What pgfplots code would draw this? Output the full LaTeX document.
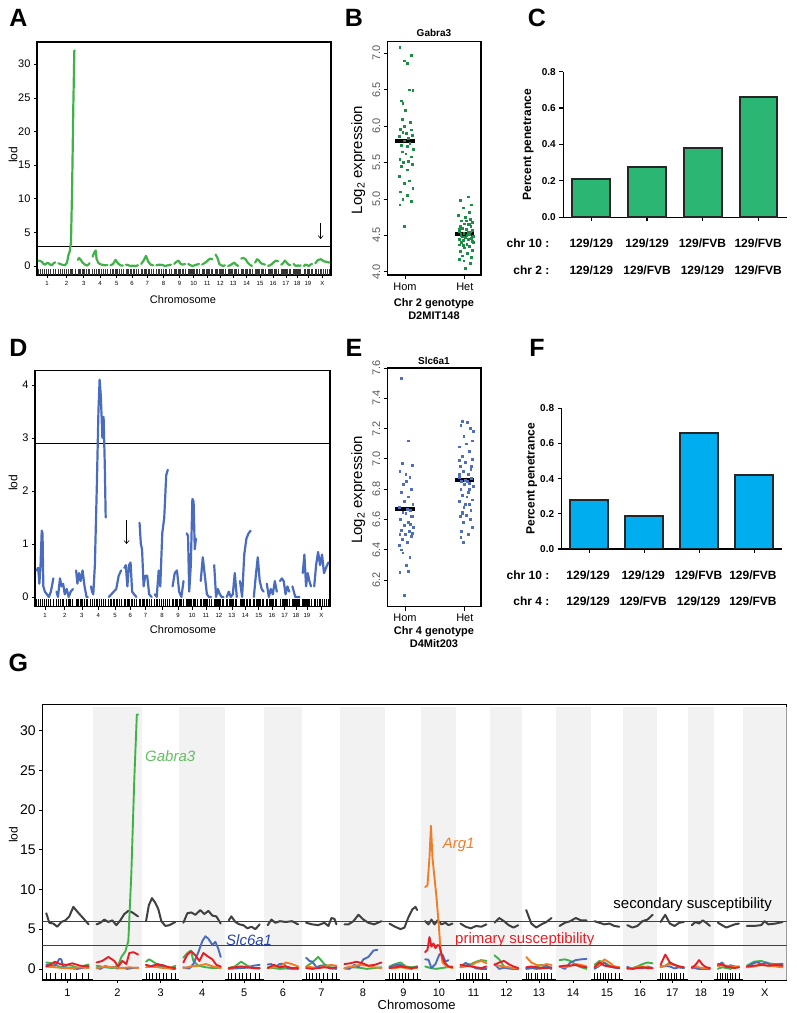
\documentclass[border=0pt]{standalone}
\usepackage{fontspec}
\setmainfont{Liberation Sans}
\usepackage{pgfplots}
\usepackage{pgfplotstable}
\pgfplotsset{compat=1.18}
\usetikzlibrary{arrows.meta}
\pgfkeys{/pgf/number format/assume math mode=true}
\newcommand{\fs}[1]{\fontsize{#1}{#1}\selectfont}
\definecolor{lodgreen}{RGB}{64,178,72}
\definecolor{lodblue}{RGB}{74,108,190}
\definecolor{lodorange}{RGB}{240,125,40}
\definecolor{lodred}{RGB}{232,30,36}
\definecolor{loddark}{RGB}{64,64,64}
\definecolor{bargreen}{RGB}{43,182,115}
\definecolor{barblue}{RGB}{0,174,239}
\definecolor{ptgreen}{RGB}{30,140,70}
\definecolor{ptblue}{RGB}{80,110,190}
\definecolor{bandgray}{RGB}{242,242,242}
\definecolor{txtgreen}{RGB}{100,190,100}
\definecolor{txtblue}{RGB}{40,70,170}

\pgfplotstableread{
x y
4 0.8
8 0.75
12.5 0.6
16.5 0.3
20.9 0.2
25 0.45
29.4 0.4
33.5 0.2
37.8 0.1
42 0.4
46.3 0.55
50 nan
54.3 0.4
58.5 0.3
62.6 0.2
66.8 0.15
70.9 0.1
76 0.5
79.1 1.5
83 2.2
86 3.5
89 12
92 24
94.5 32
95.7 32
100 nan
103.7 0.9
106.5 1.2
109.6 1.0
115.4 0.5
121.3 0.2
127.1 0.05
133 0.4
137 nan
141 1.4
145 2.0
148.5 2.3
151 1.0
155.9 0.4
163.4 0.2
170.8 0.1
178.3 0.15
182 nan
186.3 0.1
192.5 0.3
198.7 0.9
204.9 0.4
211.1 0.1
217.3 0.05
221 nan
225.3 0.2
231.4 0.1
237.5 0.0
243.5 0.05
249.6 0.0
255.7 0.1
260 nan
263.7 0.3
269.8 0.8
275.8 1.5
281.9 0.6
287.9 0.2
294 0.1
298 nan
302 0.1
309.4 0.2
316.8 0.15
324.2 0.0
331.6 0.1
339 0.2
343 nan
347 0.3
352.5 0.6
358.1 0.8
363.6 0.3
369.2 0.2
374.7 0.3
379 nan
382.7 0.3
388.2 0.1
393.6 0.0
399.1 0.1
404.5 0.2
410 0.3
414 nan
418 0.2
423.2 0.4
428.4 0.6
433.6 0.9
438.8 1.1
444 1.0
448 nan
452 1.7
456.7 1.2
461.5 0.3
466.2 0.1
471 0.0
475.7 0.1
480 nan
483.7 0.0
488.8 0.1
493.8 0.3
498.9 0.5
503.9 0.2
509 0.0
513 nan
517 1.1
522.4 1.2
527.8 1.0
533.2 0.5
538.6 0.2
544 0.0
548 nan
552 0.5
556.9 1.0
561.9 0.8
566.8 0.4
571.8 0.3
576.7 0.2
581 nan
584.7 0.0
589.8 0.1
594.8 0.3
599.9 0.6
604.9 0.8
610 0.7
614 nan
618 0.2
622.7 0.4
627.3 0.8
632 0.5
636.6 0.2
641.3 0.1
645 nan
649.3 0.3
652.9 0.1
656.5 0.0
660.1 0.1
663.7 0.0
667.3 0.1
671 nan
675.3 0.0
679.5 0.2
683.7 0.1
687.9 0.0
692.1 0.2
696.3 0.3
700 nan
704.3 0.4
711.4 0.9
718.6 1.0
725.7 0.7
732.9 0.6
740 0.5
}\greenA

\pgfplotstableread{
x y
4 0.5
8 0.55
11 0.25
14 0.6
17 1.25
19 1.2
21 0.2
25 0.1
30 0.05
35 0.0
40 0.1
46.3 0.35
50 nan
54.3 0.1
58 0.0
63 0.35
67 0.2
71 0.25
75 0.05
80 0.15
85 0.0
90 0.1
95.7 0.15
100 nan
103.7 0.5
107 0.25
111 0.45
115 0.3
120 0.5
125 0.2
130 0.0
133 0.0
137 nan
141 0.2
144 0.1
147 0.05
151 0.6
156 2.1
160 3.5
163 4.1
166 3.8
170 3.0
173 3.4
176 2.5
178.3 1.5
182 nan
186.3 0.0
192.5 0.05
198.7 0.1
204.9 0.15
211.1 0.4
217.3 0.5
221 nan
225.3 0.55
229 0.6
233 0.2
237 0.6
241 0.65
245 0.1
250 0.05
255.7 0.0
260 nan
263.7 1.4
267 1.0
270 0.9
274 0.2
278 0.4
283 0.4
288 0.05
294 0.0
298 nan
302 0.05
307 0.0
312 0.5
316 0.2
321 1.2
326 1.5
331 2.3
335 2.4
343 nan
347 0.2
352.5 0.45
358.1 0.5
363.6 0.1
369.2 0.0
374.7 0.3
379 nan
382.7 1.2
386 1.15
389 0.1
393 0.6
397 1.85
400 1.8
403 0.9
406 1.1
414 nan
418 0.3
423.2 0.75
428.4 0.4
433.6 0.05
438.8 0.0
444 0.0
448 nan
452 0.6
456.7 0.0
461.5 0.15
466.2 0.05
471 0.0
475.7 0.0
480 nan
483.7 0.0
488.8 0.1
493.8 0.0
498.9 0.05
503.9 0.45
509 0.0
513 nan
517 0.3
522.4 0.0
527.8 0.8
533.2 1.1
538.6 1.2
544 1.25
548 nan
552 0.0
556.9 0.4
561.9 0.75
566.8 0.3
571.8 0.15
576.7 0.1
581 nan
584.7 0.25
589.8 0.0
594.8 0.15
599.9 0.05
604.9 0.3
610 0.1
614 nan
618 0.3
622.7 0.35
627.3 0.3
632 0.05
636.6 0.2
641.3 0.1
645 nan
649.3 0.2
652.9 0.1
656.5 0.0
660.1 0.0
663.7 0.0
667.3 0.0
671 nan
675.3 0.45
679.5 0.8
683.7 0.2
687.9 0.45
692.1 0.3
696.3 0.2
700 nan
704.3 0.2
709 0.6
714 0.85
719 0.6
724 0.8
729 0.45
734 0.55
740 0.65
}\blueD

\pgfplotstableread{
x y
4 7.0
7 5.8
11 5.7
15 5.3
19 5.9
23 6.1
27 6.6
31 7.8
35 7.2
40 6.5
46.3 5.6
50 nan
54.3 5.6
58 5.8
62 6.2
66 5.9
70 6.1
74 5.5
78 6.1
82 6.9
86 7.3
90 7.1
95.7 6.6
100 nan
103.7 6.0
106.5 8.0
109.6 8.9
113 8.3
116 7.5
119 6.0
123 5.4
127.1 5.5
133 5.9
137 nan
141 5.8
145 7.0
149 7.1
153 6.8
158 7.4
162 6.9
166 7.3
170 6.7
174 6.6
178.3 5.7
182 nan
186.3 6.1
189 6.6
193 5.9
197 5.6
201 5.5
205 5.1
209 5.3
213 5.0
217.3 5.6
221 nan
225.3 5.5
229 6.2
233 5.8
237.5 6.0
243.5 5.9
249.6 6.0
255.7 5.6
260 nan
263.7 5.8
269.8 5.6
275.8 5.5
281.9 5.8
286 5.4
289 6.4
292 6.3
294 5.6
298 nan
302 5.6
306 5.6
311 6.0
316 6.8
321 6.2
326 5.8
331.6 5.6
339 6.0
343 nan
347 5.7
352.5 5.3
358.1 5.0
362 5.2
366 6.5
370 7.5
373 7.8
374.7 7.4
379 nan
382.7 6.0
386 5.6
389 6.2
392 5.6
395 6.1
399 5.6
403 5.8
406 5.5
410 5.7
414 nan
418 5.7
423.2 5.3
428.4 5.1
433.6 5.4
438.8 5.3
444 5.6
448 nan
452 5.8
456.7 6.4
461.5 6.0
466.2 5.5
471 5.2
475.7 5.5
480 nan
483.7 7.4
488.8 5.7
493.8 5.2
498.9 5.6
503.9 5.9
509 6.4
513 nan
517 5.4
522.4 5.8
527.8 6.0
533.2 6.4
538.6 6.1
544 6.1
548 nan
552 6.0
556.9 5.8
561.9 5.6
566.8 5.7
571.8 5.4
576.7 5.3
581 nan
584.7 5.5
589.8 5.2
594.8 5.4
599.9 6.0
604.9 6.2
610 6.8
614 nan
618 5.9
622.7 6.8
627.3 5.7
632 5.4
636.6 5.8
641.3 5.9
645 nan
649.3 5.5
652.9 5.9
656.5 5.7
660.1 6.1
663.7 5.8
667.3 5.4
671 nan
675.3 5.8
679.5 5.5
683.7 5.2
687.9 5.4
692.1 5.6
696.3 5.7
700 nan
704.3 5.4
711.4 5.4
718.6 5.5
722 6.0
725.7 5.6
732.9 5.7
740 5.9
}\darkG

\pgfplotstableread{
x y
4 0.3
12.5 0.2
20.9 0.1
29.4 0.1
37.8 0.2
46.3 0.1
50 nan
54.3 0.1
62.6 0.3
70.9 0.2
79.1 0.1
87.4 0.2
95.7 0.1
100 nan
103.7 0.2
109.6 0.3
115.4 0.2
121.3 0.1
127.1 0.1
133 0.1
137 nan
141 0.1
148.5 0.3
155.9 0.4
163.4 0.6
170.8 0.3
178.3 0.1
182 nan
186.3 0.1
192.5 0.2
198.7 0.3
204.9 0.2
211.1 0.1
217.3 0.1
221 nan
225.3 0.1
231.4 0.2
237.5 0.3
243.5 0.8
249.6 0.6
255.7 0.3
260 nan
263.7 0.3
269.8 0.2
275.8 0.1
281.9 0.3
287.9 0.5
294 0.4
298 nan
302 0.1
309.4 0.3
316.8 0.5
324.2 0.4
331.6 0.2
339 0.1
343 nan
347 0.1
352.5 0.1
358.1 0.2
363.6 0.1
369.2 0.1
374.7 0.1
379 nan
382.7 10.3
385 10.5
387 14
388.5 18
390 14
392 11.5
394 9
396 6
398 2.5
400 0.8
404 0.3
410 0.1
414 nan
418 0.2
423.2 0.3
428.4 0.4
433.6 0.8
438.8 1.0
444 0.7
448 nan
452 0.5
456.7 0.4
461.5 0.3
466.2 0.2
471 0.1
475.7 0.1
480 nan
483.7 1.5
488.8 0.8
493.8 0.5
498.9 0.4
503.9 0.6
509 0.5
513 nan
517 0.3
522.4 0.2
527.8 0.4
533.2 0.6
538.6 0.5
544 0.3
548 nan
552 0.2
556.9 0.5
561.9 1.2
566.8 0.8
571.8 0.3
576.7 0.2
581 nan
584.7 0.1
589.8 0.1
594.8 0.2
599.9 0.3
604.9 0.2
610 0.1
614 nan
618 0.2
622.7 0.4
627.3 0.6
632 0.5
636.6 0.3
641.3 0.2
645 nan
649.3 0.2
652.9 0.3
656.5 0.2
660.1 0.1
663.7 0.1
667.3 0.1
671 nan
675.3 0.3
679.5 0.5
683.7 0.4
687.9 0.3
692.1 0.3
696.3 0.3
700 nan
704.3 0.2
711.4 0.3
718.6 0.5
725.7 0.4
732.9 0.3
740 0.2
}\orangeG

\pgfplotstableread{
x y
4 0.3
8 0.5
12.5 0.9
18 0.6
24 0.5
30 0.7
37.8 0.4
46.3 0.3
50 nan
54.3 0.8
60 1.0
66 1.5
72 1.0
76 0.3
80 1.0
84 0.6
87 2.0
91 2.1
95.7 1.8
100 nan
103.7 0.5
109.6 0.3
115.4 0.6
121.3 0.4
127.1 0.2
133 0.1
137 nan
141 0.8
145 1.8
149 2.2
153 1.7
157 1.0
161 2.0
165 1.6
170 1.2
174 0.5
178.3 0.3
182 nan
186.3 0.1
192.5 0.2
198.7 0.3
204.9 0.2
211.1 0.1
217.3 0.1
221 nan
225.3 0.1
231.4 0.5
237.5 0.2
243.5 0.3
249.6 0.1
255.7 0.1
260 nan
263.7 0.1
269.8 0.0
275.8 0.1
281.9 0.2
287.9 0.1
294 0.2
298 nan
302 0.6
308 0.7
314 0.9
320 0.7
326 0.4
332 0.5
339 0.8
343 nan
347 0.1
352.5 0.2
358.1 0.3
363.6 0.2
369.2 0.1
374.7 0.2
379 nan
382.7 2.1
385 2.4
387 4.0
389 2.8
391 3.2
393 2.6
395 3.0
397 2.9
399 1.8
402 0.8
406 0.3
410 0.2
414 nan
418 0.5
423.2 0.4
428.4 0.3
433.6 0.2
438.8 0.1
444 0.3
448 nan
452 0.5
456.7 0.8
461.5 1.0
466.2 0.6
471 0.3
475.7 0.1
480 nan
483.7 0.2
488.8 0.3
493.8 0.2
498.9 0.1
503.9 0.1
509 0.2
513 nan
517 0.3
522.4 0.4
527.8 0.4
533.2 0.5
538.6 0.3
544 0.2
548 nan
552 0.2
556.9 0.8
561.9 0.4
566.8 0.3
571.8 0.2
576.7 0.1
581 nan
584.7 0.1
589.8 0.0
594.8 0.1
599.9 0.2
604.9 0.1
610 0.1
614 nan
618 0.5
622.7 1.8
627.3 0.8
632 0.5
636.6 0.3
641.3 0.2
645 nan
649.3 0.1
652.9 0.5
656.5 1.1
660.1 0.5
663.7 0.2
667.3 0.1
671 nan
675.3 0.6
679.5 0.5
683.7 0.3
687.9 0.2
692.1 0.1
696.3 0.2
700 nan
704.3 0.3
711.4 0.4
718.6 0.5
725.7 0.4
732.9 0.5
740 0.4
}\redG

\pgfplotsset{
  chromticks/.style={
    xtick={25.2,75,118.3,159.7,201.8,240.5,278.9,320.5,360.9,396.4,431,463.9,496.4,530.5,564.4,597.4,629.7,658.3,685.8,722.2},
    xticklabels={1,2,3,4,5,6,7,8,9,10,11,12,13,14,15,16,17,18,19,X},
  },
  rug/.style={
    extra x ticks={4,8,13,19,23,28.5,33.6,40,46.3,54.3,58.4,63.4,68.8,72.9,78.3,83.3,86,89.5,95.7,103.7,106.6,110.1,114,116.9,120.7,124.2,128.6,133,141,144.7,149.2,154.1,157.8,162.6,167.1,172.7,178.3,186.3,189.4,193.1,197.2,200.3,204.3,208,212.7,217.3,225.3,228.3,232,236,239,242.9,246.6,251.1,255.7,263.7,266.7,270.4,274.3,277.3,281.3,284.9,289.5,294,302,305.7,310.1,315,318.7,323.5,327.9,333.5,339,347,349.8,353.1,356.7,359.5,363.1,366.4,370.5,374.7,382.7,384,385.4,386.5,387.5,388.7,390,391,392.3,395,398.5,401.8,405.9,410,418,420.6,423.7,427.1,429.7,433.1,436.2,440.1,444,452,454.4,457.2,460.3,462.7,465.7,468.6,472.1,475.7,483.7,486.2,489.3,492.6,495.1,498.4,501.4,505.2,509,517,519.7,522.9,526.5,529.2,532.7,535.9,540,544,552,554.5,557.4,560.6,563.1,566.3,569.3,573,576.7,584.7,587.2,590.3,593.6,596.1,599.4,602.4,606.2,610,618,620.3,623.1,626.2,628.5,631.5,634.3,637.8,641.3,649.3,651.1,653.3,655.6,657.4,659.7,661.9,664.6,667.3,675.3,677.4,680,682.7,684.8,687.5,690,693.2,696.3,704.3,707.9,712.2,716.8,720.4,725,729.3,734.6,740},
    extra x tick labels={},
  },
  lodaxis/.style={
    scale only axis, anchor=north west, xmin=0, xmax=744,
    unbounded coords=jump, chromticks, rug,
    axis line style={line width=1.2pt},
    tick style={line width=0.6pt, black},
    xtick pos=bottom, ytick pos=left, tick align=outside,
    major tick length=3pt,
    every axis plot/.append style={line join=round, line cap=round},
  },
  stripaxis/.style={
    scale only axis, anchor=north west,
    xtick={1,2}, xticklabels={Hom,Het},
    xtick pos=bottom, ytick pos=left, tick align=outside,
    major tick length=4pt,
    axis line style={line width=1.2pt},
    tick style={line width=0.8pt, black},
    ticklabel style={font=\fs{11}},
    yticklabel style={rotate=90, anchor=south, text=black!65,
      /pgf/number format/.cd, fixed, fixed zerofill, precision=1},
  },
  baraxis/.style={
    scale only axis, anchor=north west,
    axis x line*=bottom, axis y line*=left,
    xmin=0.5, xmax=4.5, ymin=0, ymax=0.8,
    ytick={0,0.2,0.4,0.6,0.8}, xtick={1,2,3,4}, xticklabels={},
    tick align=outside, major tick length=4pt,
    axis line style={line width=1.3pt},
    tick style={line width=1.2pt, black},
    yticklabel style={font=\bfseries\fs{10},
      /pgf/number format/.cd, fixed, fixed zerofill, precision=1},
  },
}

\begin{document}
\begin{tikzpicture}[x=1pt,y=1pt]
\path (0,0) rectangle (797,-1013);

% ---------------- Panel A
\begin{axis}[lodaxis, at={(37pt,-42pt)}, width=294pt, height=233pt,
  ymin=-1.34, ymax=33.3, ytick={0,5,...,30},
  yticklabel style={font=\fs{11}}, xticklabel style={font=\fs{6}},
  extra x tick style={tick align=inside, major tick length=6pt, tick style={line width=0.45pt, black!80}}]
\addplot[black, line width=1pt] coordinates {(0,2.95)(744,2.95)};
\addplot[lodgreen, line width=2.2pt] table {\greenA};
\draw[-{Straight Barb[length=3pt,width=5pt]}, line width=0.6pt] (axis cs:718,6.4) -- (axis cs:718,4.0);
\end{axis}
\node[font=\fs{12}, rotate=90] at (13,-155) {lod};
\node[font=\fs{11}] at (183,-300) {Chromosome};

% ---------------- Panel D
\begin{axis}[lodaxis, at={(35pt,-370.7pt)}, width=295pt, height=236pt,
  ymin=-0.183, ymax=4.27, ytick={0,1,2,3,4},
  yticklabel style={font=\fs{11}}, xticklabel style={font=\fs{6}},
  extra x tick style={tick align=inside, major tick length=8pt, tick style={line width=0.9pt, black}}]
\addplot[black, line width=1pt] coordinates {(0,2.89)(744,2.89)};
\addplot[lodblue, line width=2.2pt] table {\blueD};
\draw[-{Straight Barb[length=3pt,width=5pt]}, line width=0.6pt] (axis cs:231,1.45) -- (axis cs:231,1.0);
\end{axis}
\node[font=\fs{12}, rotate=90] at (13,-483) {lod};
\node[font=\fs{11}] at (183,-630) {Chromosome};

% ---------------- Panel G
\begin{axis}[lodaxis, at={(42.3pt,-704.3pt)}, width=744.4pt, height=275.7pt,
  ymin=-1.39, ymax=33.3, ytick={0,5,...,30},
  yticklabel style={font=\fs{14}}, xticklabel style={font=\fs{11}, yshift=-2pt},
  major tick length=3pt,
  extra x tick style={tick align=inside, major tick length=7pt, tick style={line width=0.8pt, black}}]
\fill[bandgray] (axis cs:50.3,-1.39) rectangle (axis cs:99.7,33);
\fill[bandgray] (axis cs:137,-1.39) rectangle (axis cs:182.3,33);
\fill[bandgray] (axis cs:221.3,-1.39) rectangle (axis cs:259.7,33);
\fill[bandgray] (axis cs:298,-1.39) rectangle (axis cs:343,33);
\fill[bandgray] (axis cs:378.7,-1.39) rectangle (axis cs:414,33);
\fill[bandgray] (axis cs:448,-1.39) rectangle (axis cs:479.7,33);
\fill[bandgray] (axis cs:513,-1.39) rectangle (axis cs:548,33);
\fill[bandgray] (axis cs:580.7,-1.39) rectangle (axis cs:614,33);
\fill[bandgray] (axis cs:645.3,-1.39) rectangle (axis cs:671.3,33);
\fill[bandgray] (axis cs:700.3,-1.39) rectangle (axis cs:744,33);
\addplot[black!75, line width=0.7pt] coordinates {(0,6)(744,6)};
\addplot[black!75, line width=0.7pt] coordinates {(0,3)(744,3)};
\addplot[loddark, line width=2pt] table {\darkG};
\addplot[lodgreen, line width=1.9pt] table {\greenA};
\addplot[lodblue, line width=1.9pt] table {\blueD};
\addplot[lodorange, line width=1.9pt] table {\orangeG};
\addplot[lodred, line width=1.9pt] table {\redG};
\end{axis}
\node[font=\fs{12}, rotate=90] at (13.3,-835) {lod};
\node[font=\fs{13}] at (416.7,-1005) {Chromosome};
\node[font=\itshape\fs{15}, text=txtgreen, anchor=west] at (141.7,-756.7) {Gabra3};
\node[font=\itshape\fs{15}, text=txtblue, anchor=west] at (222.7,-940) {Slc6a1};
\node[font=\itshape\fs{15}, text=lodorange, anchor=west] at (439.3,-845) {Arg1};
\node[font=\fs{15}, text=black, anchor=west] at (610,-905) {secondary susceptibility};
\node[font=\fs{15}, text=lodred, anchor=west] at (451.7,-940) {primary susceptibility};

% ---------------- Panel B
\begin{axis}[stripaxis, at={(387.7pt,-41.7pt)}, width=93.3pt, height=233.3pt,
  xmin=0.71, xmax=2.27, ymin=3.955, ymax=7.16, ytick={4,4.5,5,5.5,6,6.5,7}]
\addplot[only marks, mark=square*, mark size=0.9pt, ptgreen] coordinates {
(0.91,7.08)(1.11,6.97)(0.98,6.90)(1.04,6.87)(1.07,6.50)(1.13,6.49)(0.93,6.35)(0.96,6.31)(1.00,6.22)(0.95,6.10)(1.09,6.05)(0.99,6.00)(0.92,5.96)(1.10,5.95)(0.96,5.92)(1.02,5.90)(1.12,5.88)(0.90,5.86)(1.06,5.83)(0.98,5.80)(1.08,5.77)(0.93,5.74)(1.03,5.72)(1.14,5.68)(0.95,5.65)(1.01,5.62)(1.10,5.58)(0.91,5.55)(1.05,5.52)(0.97,5.50)(1.12,5.48)(0.94,5.45)(1.03,5.40)(0.90,5.31)(1.07,5.25)(0.99,5.22)(1.13,5.15)(0.92,5.10)(1.04,5.05)(0.96,5.00)(1.11,4.97)(0.91,4.92)(0.98,4.62)};
\addplot[only marks, mark=square*, mark size=0.9pt, ptgreen] coordinates {
(2.05,5.03)(1.92,4.98)(2.11,4.92)(1.97,4.88)(2.07,4.82)(1.89,4.78)(2.01,4.75)(2.09,4.72)(1.94,4.70)(2.13,4.68)(1.99,4.66)(2.05,4.65)(1.92,4.63)(2.10,4.62)(1.96,4.60)(2.02,4.58)(2.12,4.57)(1.90,4.55)(2.06,4.54)(1.98,4.53)(2.08,4.52)(1.93,4.51)(2.03,4.50)(2.14,4.49)(1.95,4.48)(2.01,4.47)(2.11,4.46)(1.91,4.45)(2.05,4.44)(1.97,4.43)(2.12,4.42)(1.94,4.40)(2.03,4.38)(1.90,4.37)(2.07,4.35)(1.99,4.33)(2.13,4.30)(1.92,4.28)(2.04,4.25)(1.96,4.22)(2.11,4.20)(1.91,4.17)(1.98,4.15)(2.09,4.12)(2.00,4.05)(2.08,4.65)(1.95,4.60)(2.10,4.55)(1.93,4.50)(2.06,4.45)(2.14,4.41)(1.97,4.36)(2.02,4.70)(1.90,4.58)(2.12,4.48)};
\addplot[black, line width=4pt] coordinates {(0.84,5.80)(1.16,5.80)};
\addplot[black, line width=4pt] coordinates {(1.84,4.52)(2.16,4.52)};
\end{axis}
\node[font=\bfseries\fs{10}] at (434,-33) {Gabra3};
\node[font=\fs{15}, rotate=90] at (358.3,-160) {Log\textsubscript{2} expression};
\node[font=\bfseries\fs{11}] at (434,-303.3) {Chr 2 genotype};
\node[font=\bfseries\fs{11}] at (434,-315.5) {D2MIT148};

% ---------------- Panel E
\begin{axis}[stripaxis, at={(387.7pt,-368pt)}, width=93.3pt, height=238.7pt,
  xmin=0.71, xmax=2.27, ymin=6.024, ymax=7.6, ytick={6.2,6.4,6.6,6.8,7.0,7.2,7.4,7.6}]
\addplot[only marks, mark=square*, mark size=0.9pt, ptblue] coordinates {
(0.93,7.53)(1.06,7.12)(0.95,6.97)(1.12,6.96)(0.91,6.92)(1.08,6.88)(1.02,6.85)(0.97,6.83)(1.10,6.80)(0.93,6.78)(1.05,6.75)(0.99,6.72)(1.13,6.70)(0.90,6.68)(1.03,6.67)(1.09,6.66)(0.96,6.65)(1.01,6.64)(1.11,6.62)(0.92,6.60)(1.06,6.58)(0.98,6.56)(1.14,6.55)(0.94,6.53)(1.07,6.52)(1.12,6.51)(0.91,6.50)(1.00,6.50)(1.10,6.49)(0.95,6.47)(1.04,6.45)(0.90,6.43)(0.93,6.40)(0.96,6.38)(1.08,6.35)(1.02,6.30)(1.05,6.26)(0.91,6.25)(0.98,6.10)(1.01,6.90)(1.13,6.62)(1.09,6.57)};
\addplot[only marks, mark=square*, mark size=0.9pt, ptblue] coordinates {
(1.96,7.25)(2.04,7.24)(1.93,7.22)(2.09,7.20)(1.98,7.15)(2.12,7.12)(2.02,7.10)(1.91,7.08)(2.07,7.05)(1.95,7.02)(2.13,7.00)(2.00,6.98)(1.92,6.95)(2.10,6.93)(1.97,6.92)(2.05,6.90)(1.90,6.88)(2.11,6.87)(2.01,6.86)(1.94,6.85)(2.08,6.84)(1.99,6.83)(2.14,6.82)(1.93,6.80)(2.06,6.78)(1.96,6.76)(2.03,6.75)(2.12,6.73)(1.91,6.72)(2.07,6.70)(1.98,6.68)(2.10,6.66)(1.95,6.65)(2.02,6.63)(1.92,6.62)(2.09,6.60)(1.97,6.58)(2.13,6.55)(1.94,6.52)(2.05,6.50)(1.93,6.48)(1.97,6.45)(2.11,6.95)(1.90,6.90)(2.08,6.80)(2.00,6.70)(2.14,7.18)(1.96,6.64)(2.04,6.85)(1.91,6.99)};
\addplot[black, line width=4pt] coordinates {(0.84,6.67)(1.16,6.67)};
\addplot[black, line width=4pt] coordinates {(1.84,6.86)(2.16,6.86)};
\end{axis}
\node[font=\bfseries\fs{10}] at (434,-361) {Slc6a1};
\node[font=\fs{15}, rotate=90] at (358.3,-490) {Log\textsubscript{2} expression};
\node[font=\bfseries\fs{11}] at (434,-631.7) {Chr 4 genotype};
\node[font=\bfseries\fs{11}] at (434,-644) {D4Mit203};

% ---------------- Panel C
\begin{axis}[baraxis, at={(563.3pt,-71.7pt)}, width=223.4pt, height=145.6pt]
\addplot[ybar, bar width=0.67, fill=bargreen, draw=black!85, line width=2pt] coordinates {(1,0.21)(2,0.275)(3,0.38)(4,0.66)};
\end{axis}
\node[font=\bfseries\fs{12}, rotate=90] at (528.3,-145) {Percent penetrance};
\node[font=\bfseries\fs{12}, anchor=east] at (553,-243.3) {chr 10 :};
\node[font=\bfseries\fs{12}, anchor=east] at (553,-270) {chr 2 :};
\node[font=\bfseries\fs{12}] at (591.3,-243.3) {129/129};
\node[font=\bfseries\fs{12}] at (647.2,-243.3) {129/129};
\node[font=\bfseries\fs{12}] at (702.5,-243.3) {129/FVB};
\node[font=\bfseries\fs{12}] at (758.3,-243.3) {129/FVB};
\node[font=\bfseries\fs{12}] at (591.3,-270) {129/129};
\node[font=\bfseries\fs{12}] at (647.2,-270) {129/FVB};
\node[font=\bfseries\fs{12}] at (702.5,-270) {129/129};
\node[font=\bfseries\fs{12}] at (758.3,-270) {129/FVB};

% ---------------- Panel F
\begin{axis}[baraxis, at={(561.7pt,-408.3pt)}, width=220pt, height=140.7pt]
\addplot[ybar, bar width=0.68, fill=barblue, draw=black!85, line width=2pt] coordinates {(1,0.28)(2,0.19)(3,0.66)(4,0.42)};
\end{axis}
\node[font=\bfseries\fs{12}, rotate=90] at (531.7,-479) {Percent penetrance};
\node[font=\bfseries\fs{12}, anchor=east] at (553,-575) {chr 10 :};
\node[font=\bfseries\fs{12}, anchor=east] at (553,-601) {chr 4 :};
\node[font=\bfseries\fs{12}] at (588.2,-575) {129/129};
\node[font=\bfseries\fs{12}] at (643.3,-575) {129/129};
\node[font=\bfseries\fs{12}] at (698.7,-575) {129/FVB};
\node[font=\bfseries\fs{12}] at (753,-575) {129/FVB};
\node[font=\bfseries\fs{12}] at (588.2,-601) {129/129};
\node[font=\bfseries\fs{12}] at (643.3,-601) {129/FVB};
\node[font=\bfseries\fs{12}] at (698.7,-601) {129/129};
\node[font=\bfseries\fs{12}] at (753,-601) {129/FVB};

% ---------------- Panel letters
\node[font=\bfseries\fs{25}] at (18.3,-18.3) {A};
\node[font=\bfseries\fs{25}] at (354,-18.3) {B};
\node[font=\bfseries\fs{25}] at (537,-18.3) {C};
\node[font=\bfseries\fs{25}] at (18.3,-348) {D};
\node[font=\bfseries\fs{25}] at (354,-348) {E};
\node[font=\bfseries\fs{25}] at (537,-348) {F};
\node[font=\bfseries\fs{25}] at (18.3,-663) {G};
\end{tikzpicture}
\end{document}
